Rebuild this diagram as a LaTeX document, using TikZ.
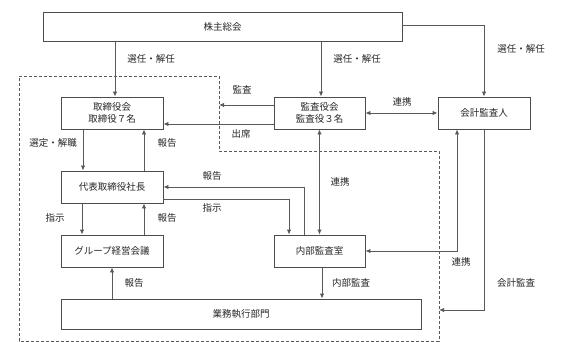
\documentclass[tikz,border=0pt]{standalone}
\usepackage{fontspec}
\setmainfont{Noto Sans CJK JP}
\usetikzlibrary{arrows.meta}
\begin{document}
\begin{tikzpicture}[x=1pt,y=-1pt,
  every node/.style={font=\fontsize{9.5}{11}\selectfont, text=black!85, inner sep=0pt},
  box/.style={draw=black!70, line width=0.9pt, fill=white, align=center},
  conn/.style={draw=black!65, line width=0.9pt},
  arr/.style={conn, -{Latex[length=5pt,width=4.5pt]}},
  darr/.style={conn, {Latex[length=5pt,width=4.5pt]}-{Latex[length=5pt,width=4.5pt]}},
  region/.style={draw=black!65, line width=0.8pt, dash pattern=on 3pt off 2pt},
  lbl/.style={}]
\useasboundingbox (0,0) rectangle (575,342);
% dashed region
\draw[region] (19,76) -- (219,76) -- (219,151) -- (439,151) -- (439,341) -- (19,341) -- cycle;
% boxes
\node[box, minimum width=359pt, minimum height=29pt] (top) at (222.5,26.5) {株主総会};
\node[box, minimum width=102pt, minimum height=32pt] (tor) at (112,113) {取締役会\\[1pt]取締役７名};
\node[box, minimum width=91pt, minimum height=32pt] (kan) at (319.5,113) {監査役会\\[1pt]監査役３名};
\node[box, minimum width=92pt, minimum height=32pt] (kai) at (484,113) {会計監査人};
\node[box, minimum width=102pt, minimum height=32pt] (dai) at (112,187) {代表取締役社長};
\node[box, minimum width=102pt, minimum height=32pt] (grp) at (112,251) {グループ経営会議};
\node[box, minimum width=91pt, minimum height=32pt] (nai) at (319.5,251) {内部監査室};
\node[box, minimum width=360pt, minimum height=30pt] (gyo) at (241,314) {業務執行部門};
% free ends
\coordinate (kansaend) at (219,105);
\coordinate (kaikeiend) at (439,310);
% connectors
\draw[arr] ([xshift=3pt]tor.north |- top.south) -- ([xshift=3pt]tor.north);
\draw[arr] ([xshift=1.5pt]kan.north |- top.south) -- ([xshift=1.5pt]kan.north);
\draw[arr] ([yshift=1.5pt]top.east) -| (kai.north);
\draw[arr] ([yshift=8pt]kan.west) -- (kansaend);
\draw[arr] ([yshift=-11pt]kan.west) -- ([yshift=-11pt]kan.west -| tor.east);
\draw[darr] (kan.east) -- (kai.west);
\draw[arr] ([xshift=-29pt]tor.south) -- ([xshift=-29pt]dai.north);
\draw[arr] ([xshift=32pt]dai.north) -- ([xshift=32pt]tor.south);
\draw[arr] ([xshift=-15.5pt]nai.north) |- (dai.east);
\draw[arr] ([yshift=-12pt]dai.east) -| ([xshift=-30.5pt]nai.north);
\draw[darr] (kan.south) -- (nai.north);
\draw[arr] ([xshift=-30pt]dai.south) -- ([xshift=-30pt]grp.north);
\draw[arr] ([xshift=32pt]grp.north) -- ([xshift=32pt]dai.south);
\draw[arr] (grp.south |- gyo.north) -- (grp.south);
\draw[arr] ([xshift=2.5pt]nai.south) -- ([xshift=2.5pt]nai.south |- gyo.north);
\draw[darr] ([xshift=-27pt]kai.south) |- (nai.east);
\draw[arr] (kai.south) |- (kaikeiend);
% labels
\node[lbl] (l1) at (151,59) {選任・解任};
\node[lbl] (l2) at (357,59) {選任・解任};
\node[lbl] (l3) at (521,49) {選任・解任};
\node[lbl] (l4) at (242,90) {監査};
\node[lbl] (l5) at (241,134) {出席};
\node[lbl] (l6) at (402,102) {連携};
\node[lbl] (l7) at (53,143) {選定・解職};
\node[lbl] (l8) at (167,143) {報告};
\node[lbl] (l9) at (212,176) {報告};
\node[lbl] (l10) at (212,208) {指示};
\node[lbl] (l11) at (340,182) {連携};
\node[lbl] (l12) at (55,218) {指示};
\node[lbl] (l13) at (167,218) {報告};
\node[lbl] (l14) at (461,262) {連携};
\node[lbl] (l15) at (134,283) {報告};
\node[lbl] (l16) at (351,283) {内部監査};
\node[lbl] (l17) at (516,283) {会計監査};
\end{tikzpicture}
\end{document}
